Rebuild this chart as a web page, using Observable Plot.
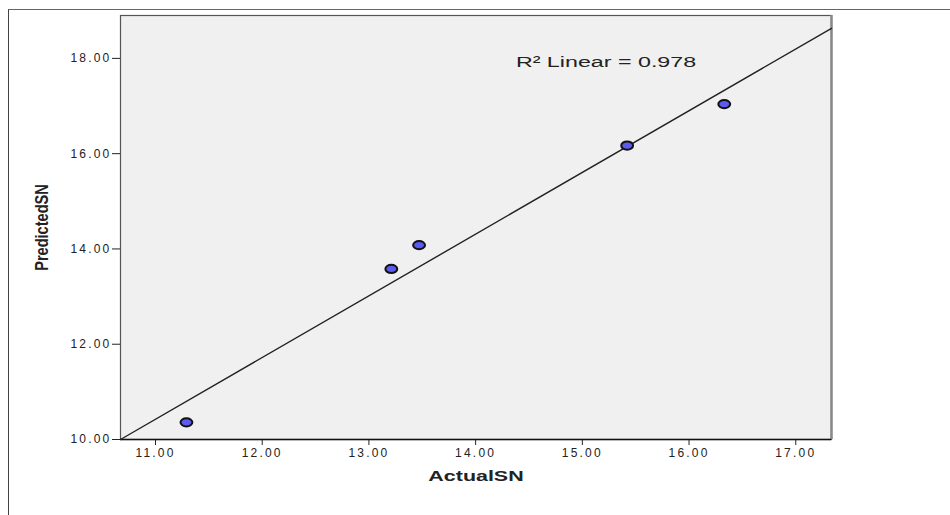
<!DOCTYPE html>
<html><head><meta charset="utf-8">
<script src="https://cdn.jsdelivr.net/npm/d3@7"></script>
<script src="https://cdn.jsdelivr.net/npm/@observablehq/plot@0.6"></script>
<style>
body{margin:0;background:#fff;}
#wrap{position:relative;width:950px;height:515px;overflow:hidden;}
#border{position:absolute;left:8px;top:9px;width:980px;height:540px;border-top:1.5px solid #666;border-left:1.5px solid #444;pointer-events:none;}
#wrap svg text{letter-spacing:2.2px;fill:#222;}
#wrap svg text[aria-label="xtitle"], #wrap svg text[aria-label="ytitle"], #wrap svg text[aria-label="r2"]{letter-spacing:0;}
</style>
</head><body>
<div id="wrap"><div id="border"></div></div>
<script>
const actualSN = [11.29, 13.21, 13.47, 15.42, 16.33];
const predictedSN = [10.36, 13.58, 14.08, 16.17, 17.04];
const xTicks = [11, 12, 13, 14, 15, 16, 17];
const yTicks = [10, 12, 14, 16, 18];
const fitX = [10.672, 17.335];
const fitY = [10.0, 18.63];
const r2Label = "R\u00b2 Linear = 0.978";
const xTitle = "ActualSN";
const yTitle = "PredictedSN";

const points = actualSN.map((a, i) => ({a, p: predictedSN[i]}));
const fit = fitX.map((x, i) => ({x, y: fitY[i]}));

const ellipse = {
  draw(ctx, size) {
    const ry = Math.sqrt(size / Math.PI), rx = ry * 1.45, k = 0.5523;
    ctx.moveTo(rx, 0);
    ctx.bezierCurveTo(rx, ry * k, rx * k, ry, 0, ry);
    ctx.bezierCurveTo(-rx * k, ry, -rx, ry * k, -rx, 0);
    ctx.bezierCurveTo(-rx, -ry * k, -rx * k, -ry, 0, -ry);
    ctx.bezierCurveTo(rx * k, -ry, rx, -ry * k, rx, 0);
    ctx.closePath();
  }
};

const chart = Plot.plot({
  width: 950,
  height: 515,
  marginLeft: 120,
  marginRight: 119,
  marginTop: 15,
  marginBottom: 76,
  style: {fontFamily: "'Liberation Sans', Arial, sans-serif", fontSize: "12px", color: "#222", background: "#fff"},
  x: {domain: [10.672, 17.335], ticks: xTicks, tickFormat: d3.format(".2f"), tickSize: 6, tickPadding: 3, label: null},
  y: {domain: [10, 18.9], ticks: yTicks, tickFormat: d3.format(".2f"), tickSize: 8, tickPadding: 1, label: null},
  marks: [
    Plot.frame({fill: "#f0f0f0", stroke: "#555", strokeWidth: 1.2}),
    Plot.ruleX([fitX[1]], {stroke: "#888", strokeWidth: 2.5}),
    Plot.ruleY([10], {stroke: "#111", strokeWidth: 1.5}),
    Plot.line(fit, {x: "x", y: "y", stroke: "#222", strokeWidth: 1.4}),
    Plot.dot(points, {x: "a", y: "p", r: 4.1, symbol: ellipse, fill: "#5b5bf2", stroke: "#111", strokeWidth: 2}),
    Plot.text([r2Label], {frameAnchor: "top", dx: 130, dy: 40, text: d => d, fontSize: 15.5, textAnchor: "middle", ariaLabel: () => "r2"}),
    Plot.text([xTitle], {frameAnchor: "bottom", dy: 41, text: d => d, fontSize: 15, fontWeight: "bold", textAnchor: "middle", ariaLabel: () => "xtitle"}),
    Plot.text([yTitle], {frameAnchor: "left", dx: -78, text: d => d, fontSize: 18, fontWeight: "bold", rotate: -90, textAnchor: "middle", ariaLabel: () => "ytitle"})
  ]
});
const stretch = {r2: 1.5, xtitle: 1.43, ytitle: 0.81};
for (const [label, sx] of Object.entries(stretch)) {
  d3.select(chart).selectAll(`text[aria-label="${label}"]`).attr("transform", function() {
    return (this.getAttribute("transform") || "") + ` scale(${sx},1)`;
  });
}
document.getElementById("wrap").prepend(chart);
</script>
</body></html>
